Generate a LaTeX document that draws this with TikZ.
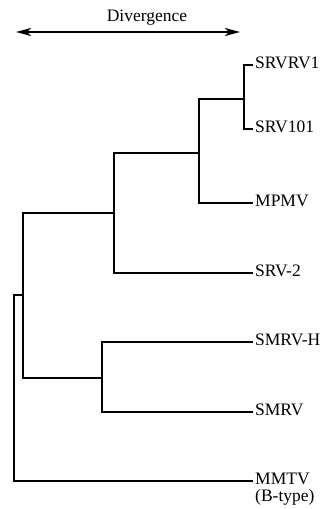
\documentclass[tikz,border=0pt]{standalone}
\usepackage{fontspec}
\setmainfont{Liberation Serif}
\usetikzlibrary{arrows.meta}
\begin{document}
\begin{tikzpicture}[x=1pt,y=-1pt,
  branch/.style={line width=2pt,line cap=rect},
  lbl/.style={font=\fontsize{17.5}{19}\selectfont},
  leaf/.style={lbl,anchor=west,inner xsep=3pt,inner ysep=0pt,text height=0.66em,text depth=0pt},
  scalebar/.style={line width=2pt,{Stealth[length=15pt,width=8pt,inset=4pt]}-{Stealth[length=15pt,width=8pt,inset=4pt]}}]
\useasboundingbox (0,0) rectangle (326,509);

% divergence scale
\node[lbl] (div) at (147,18) {Divergence};
\coordinate (sL) at (16,32);
\coordinate (sR) at (240,32);
\draw[scalebar] (sL) -- (sR);

% leaves
\node[leaf] (srvrv1) at (252,65) {SRVRV1};
\node[leaf] (srv101) at (252,129) {SRV101};
\node[leaf] (mpmv) at (252,203) {MPMV};
\node[leaf] (srv2) at (252,273) {SRV-2};
\node[leaf] (smrvh) at (252,342) {SMRV-H};
\node[leaf] (smrv) at (252,412) {SMRV};
\node[leaf] (mmtv) at (252,481) {MMTV};
\node[lbl,anchor=base west,inner sep=0pt] (btype) at ([xshift=3pt,yshift=-17pt]mmtv.base west) {(B-type)};

% internal nodes
\coordinate (root) at (14,390);
\coordinate (a) at (23,295);
\coordinate (b) at (114,213);
\coordinate (c) at (102,378);
\coordinate (d) at (199,153);
\coordinate (e) at (244,99);

% branches
\draw[branch] (root) |- (a);
\draw[branch] (root) |- (mmtv.west);
\draw[branch] (a) |- (b);
\draw[branch] (a) |- (c);
\draw[branch] (b) |- (d);
\draw[branch] (b) |- (srv2.west);
\draw[branch] (d) |- (e);
\draw[branch] (d) |- (mpmv.west);
\draw[branch] (e) |- (srvrv1.west);
\draw[branch] (e) |- (srv101.west);
\draw[branch] (c) |- (smrvh.west);
\draw[branch] (c) |- (smrv.west);
\end{tikzpicture}
\end{document}
